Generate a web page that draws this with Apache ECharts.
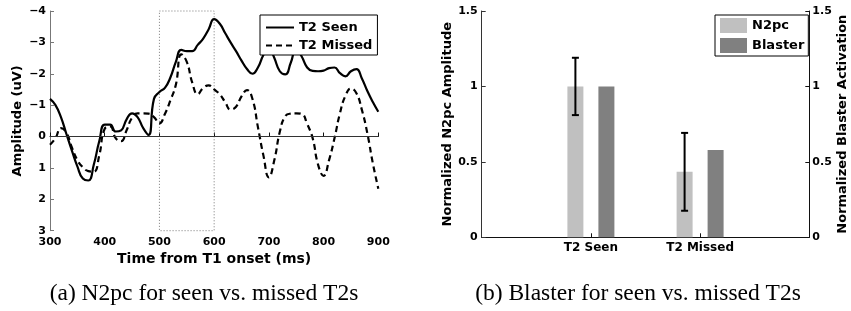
<!DOCTYPE html>
<html><head><meta charset="utf-8">
<script src="https://cdn.jsdelivr.net/npm/echarts@6/dist/echarts.min.js"></script>
<style>html,body{margin:0;padding:0;background:#fff}#c{width:851px;height:311px}</style>
</head><body><div id="c"></div>
<script>
// ---- data (a): N2pc waveforms ----
const times = [300,310,320,330,340,350,360,370,380,390,400,410,420,430,440,450,460,470,480,490,
  500,510,520,530,540,550,560,570,580,590,600,610,620,630,640,650,660,670,680,690,
  700,710,720,730,740,750,760,770,780,790,800,810,820,830,840,850,860,870,880,890,900];
const seenAmp = [-1.20,-1.00,-0.62,-0.08,0.45,0.95,1.34,1.40,0.90,0.15,
  -0.38,-0.38,-0.16,-0.20,-0.55,-0.74,-0.62,-0.28,-0.05,-1.20,
  -1.42,-1.55,-1.88,-2.38,-2.76,-2.72,-2.72,-2.92,-3.12,-3.42,
  -3.74,-3.60,-3.30,-3.00,-2.72,-2.42,-2.15,-2.00,-2.20,-2.60,
  -2.85,-2.50,-2.08,-1.98,-2.35,-2.80,-2.55,-2.20,-2.09,-2.08,
  -2.10,-2.18,-2.20,-2.02,-1.92,-2.08,-2.15,-1.85,-1.45,-1.10,-0.79];
const missedAmp = [0.26,0.05,-0.27,-0.12,0.35,0.75,0.98,1.10,1.12,0.60,
  -0.25,-0.32,0.05,0.15,-0.20,-0.60,-0.74,-0.74,-0.73,-0.62,
  -0.42,-0.72,-1.15,-1.65,-2.62,-2.38,-1.72,-1.35,-1.55,-1.63,
  -1.50,-1.35,-1.10,-0.86,-0.95,-1.28,-1.48,-1.20,-0.30,0.60,
  1.30,0.75,-0.15,-0.65,-0.73,-0.74,-0.72,-0.40,0.05,0.90,
  1.25,0.75,0.05,-0.75,-1.30,-1.53,-1.38,-0.85,-0.10,0.85,1.66];
const windowStart = 500, windowEnd = 600;
const ampMin = -4, ampMax = 3;

// ---- data (b): normalized bars ----
const barCategories = ['', 'T2 Seen', 'T2 Missed', ''];
const n2pcValues = [null, 1.0, 0.434, null];
const blasterValues = [null, 1.0, 0.578, null];
const n2pcErr = [null, 0.19, 0.258, null];

const captions = ['(a) N2pc for seen vs. missed T2s', '(b) Blaster for seen vs. missed T2s'];

// ---- styles ----
const FF = 'DejaVu Sans';
const tickFont = {fontFamily: FF, fontWeight: 'bold', fontSize: 11, color: '#000'};
const nameFont = {fontFamily: FF, fontWeight: 'bold', fontSize: 13, color: '#000'};
const capFont = {fontFamily: 'Liberation Serif', fontWeight: 'normal', fontSize: 23.5, color: '#000'};
const barW = 16, barGapPx = 15;
const errOffset = -(barW + barGapPx) / 2;

const chart = echarts.init(document.getElementById('c'), null, {renderer: 'canvas'});

const errData = [];
barCategories.forEach((c, i) => {
  if (n2pcValues[i] != null) errData.push([i, n2pcValues[i] - n2pcErr[i], n2pcValues[i] + n2pcErr[i]]);
});

const option = {
  animation: false,
  backgroundColor: '#fff',
  title: [
    {text: captions[0], left: 204, top: 282, textAlign: 'center', padding: 0, textStyle: capFont},
    {text: captions[1], left: 638, top: 282, textAlign: 'center', padding: 0, textStyle: capFont}
  ],
  legend: [
    {data: ['T2 Seen', 'T2 Missed'], orient: 'vertical', left: 260, top: 15,
     padding: [6, 5, 3, 5], itemWidth: 28, itemHeight: 14, itemGap: 5,
     itemStyle: {opacity: 0},
     borderColor: '#000', borderWidth: 1, backgroundColor: '#fff', selectedMode: false,
     textStyle: {fontFamily: FF, fontWeight: 'bold', fontSize: 13, color: '#000'}},
    {data: ['N2pc', 'Blaster'], orient: 'vertical', left: 715, top: 15, icon: 'rect',
     padding: [3, 4, 3, 5], itemWidth: 27, itemHeight: 15, itemGap: 5,
     borderColor: '#000', borderWidth: 1, backgroundColor: '#fff', selectedMode: false,
     textStyle: {fontFamily: FF, fontWeight: 'bold', fontSize: 13, color: '#000'}}
  ],
  grid: [
    {left: 50, right: 472.7, top: 11, bottom: 80.3},
    {left: 481.7, right: 41.7, top: 11, bottom: 73.7}
  ],
  xAxis: [
    {gridIndex: 0, type: 'value', min: 300, max: 900, interval: 100,
     axisLine: {show: true, lineStyle: {color: '#111', width: 1}},
     axisTick: {show: true, inside: true, length: 4, lineStyle: {color: '#111'}},
     axisLabel: Object.assign({margin: 6}, tickFont),
     splitLine: {show: false},
     name: 'Time from T1 onset (ms)', nameLocation: 'middle', nameGap: 21,
     nameTextStyle: Object.assign({}, nameFont, {fontSize: 14})},
    {gridIndex: 1, type: 'category', data: barCategories, boundaryGap: false,
     axisLine: {show: true, lineStyle: {color: '#111', width: 1}},
     axisTick: {show: true, inside: true, length: 4, lineStyle: {color: '#111'},
                interval: (i, v) => v !== ''},
     axisLabel: Object.assign({margin: 5, interval: 0}, tickFont, {fontSize: 12}),
     splitLine: {show: false}}
  ],
  yAxis: [
    {gridIndex: 0, type: 'value', inverse: true, min: ampMin, max: ampMax, interval: 1,
     axisLine: {show: true, lineStyle: {color: '#777', width: 1}},
     axisTick: {show: true, inside: true, length: 4, lineStyle: {color: '#777'}},
     axisLabel: Object.assign({margin: 4, formatter: v => String(v).replace('-', '\u2212')}, tickFont),
     splitLine: {show: false},
     name: 'Amplitude (uV)', nameLocation: 'middle', nameGap: 26, nameTextStyle: nameFont},
    {gridIndex: 1, type: 'value', position: 'left', min: 0, max: 1.5, interval: 0.5,
     axisLine: {show: true, lineStyle: {color: '#333', width: 1}},
     axisTick: {show: true, inside: true, length: 4, lineStyle: {color: '#333'}},
     axisLabel: Object.assign({margin: 4}, tickFont),
     splitLine: {show: false},
     name: 'Normalized N2pc Amplitude', nameLocation: 'middle', nameGap: 27, nameTextStyle: nameFont},
    {gridIndex: 1, type: 'value', position: 'right', min: 0, max: 1.5, interval: 0.5,
     axisLine: {show: true, lineStyle: {color: '#111', width: 1}},
     axisTick: {show: true, inside: true, length: 4, lineStyle: {color: '#111'}},
     axisLabel: Object.assign({margin: 3}, tickFont),
     splitLine: {show: false},
     name: 'Normalized Blaster Activation', nameLocation: 'middle', nameGap: 27, nameTextStyle: nameFont}
  ],
  series: [
    {name: 'T2 Seen', type: 'line', xAxisIndex: 0, yAxisIndex: 0, smooth: true, symbol: 'none',
     data: times.map((t, i) => [t, seenAmp[i]]),
     lineStyle: {color: '#000', width: 2.2, type: 'solid'}, itemStyle: {color: '#000'},
     z: 3,
     markLine: {silent: true, symbol: 'none', label: {show: false},
       lineStyle: {color: '#333', width: 1, type: 'solid'}, data: [{yAxis: 0}]},
     markArea: {silent: true,
       itemStyle: {color: 'rgba(0,0,0,0)', borderColor: '#777', borderWidth: 1, borderType: [1, 2]},
       data: [[{coord: [windowStart, ampMin]}, {coord: [windowEnd, ampMax]}]]}
    },
    {name: 'T2 Missed', type: 'line', xAxisIndex: 0, yAxisIndex: 0, smooth: true, symbol: 'none',
     data: times.map((t, i) => [t, missedAmp[i]]),
     lineStyle: {color: '#000', width: 2.2, type: [6, 4]}, itemStyle: {color: '#000'}, z: 3},
    {name: 'N2pc', type: 'bar', xAxisIndex: 1, yAxisIndex: 1, data: n2pcValues,
     barWidth: barW, barGap: (barGapPx / barW * 100) + '%', itemStyle: {color: '#c0c0c0'}},
    {name: 'Blaster', type: 'bar', xAxisIndex: 1, yAxisIndex: 2, data: blasterValues,
     barWidth: barW, barGap: (barGapPx / barW * 100) + '%', itemStyle: {color: '#808080'}},
    {name: 'err', type: 'custom', xAxisIndex: 1, yAxisIndex: 1, data: errData, z: 5,
     renderItem: function (params, api) {
       const lo = api.coord([api.value(0), api.value(1)]);
       const hi = api.coord([api.value(0), api.value(2)]);
       const x = lo[0] + errOffset;
       const cap = 3.5;
       const st = {stroke: '#000', lineWidth: 2};
       return {type: 'group', children: [
         {type: 'line', shape: {x1: x, y1: lo[1], x2: x, y2: hi[1]}, style: st},
         {type: 'line', shape: {x1: x - cap, y1: lo[1], x2: x + cap, y2: lo[1]}, style: st},
         {type: 'line', shape: {x1: x - cap, y1: hi[1], x2: x + cap, y2: hi[1]}, style: st}
       ]};
     }}
  ]
};
chart.setOption(option);
</script>
</body></html>
